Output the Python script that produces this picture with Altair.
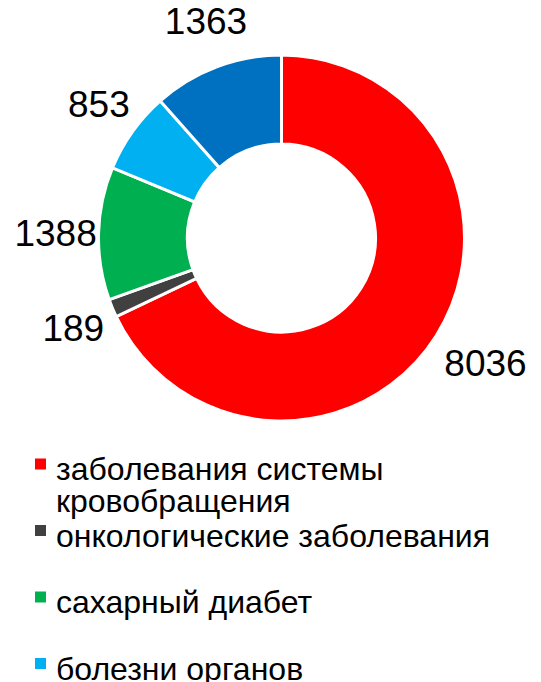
import altair as alt
import pandas as pd

categories = [
    "заболевания системы\nкровобращения",
    "онкологические заболевания",
    "сахарный диабет",
    "болезни органов\nдыхания",
    "прочие",
]
values = [8036, 189, 1388, 853, 1363]
colors = ["#FF0000", "#404040", "#00B050", "#00B0F0", "#0070C0"]

df = pd.DataFrame({
    "cat": categories,
    "value": values,
    "idx": list(range(len(categories))),
})

FONT = "Liberation Sans"
color_scale = alt.Scale(domain=categories, range=colors)

base = alt.Chart(df).encode(
    theta=alt.Theta("value:Q", stack=True),
    order=alt.Order("idx:Q"),
    color=alt.Color("cat:N", scale=color_scale, legend=None),
)

arcs = base.mark_arc(innerRadius=94, outerRadius=183, stroke="white", strokeWidth=3)
labels = base.mark_text(radius=233, dx=7, dy=3, fontSize=37, font=FONT).encode(
    text=alt.Text("value:Q", format="d"),
    color=alt.value("black"),
)

# legend built from marks, placed below the donut on a point scale
leg_scale = alt.Scale(type="point", domain=categories, padding=0,
                      range=[456, 456 + 4 * 66.5])
ybase = alt.Chart(df).encode(
    y=alt.Y("cat:N", sort=categories, axis=None, scale=leg_scale),
)
sym = ybase.mark_point(shape="square", filled=True, size=121, opacity=1).encode(
    x=alt.value(10.5),
    color=alt.Color("cat:N", scale=color_scale, legend=None),
)
txt = ybase.mark_text(align="left", baseline="alphabetic", dy=16, fontSize=32,
                      font=FONT, lineBreak="\n", lineHeight=32).encode(
    x=alt.value(26),
    text="cat:N",
    color=alt.value("black"),
)

chart = alt.layer(arcs, labels, sym, txt).properties(
    width=503, height=460,
    autosize=alt.AutoSizeParams(type="none"),
    padding={"left": 22, "top": 0, "right": 0, "bottom": 226},
).configure_view(stroke=None)

chart.save("out.html", embed_options={"renderer": "svg", "actions": False})
